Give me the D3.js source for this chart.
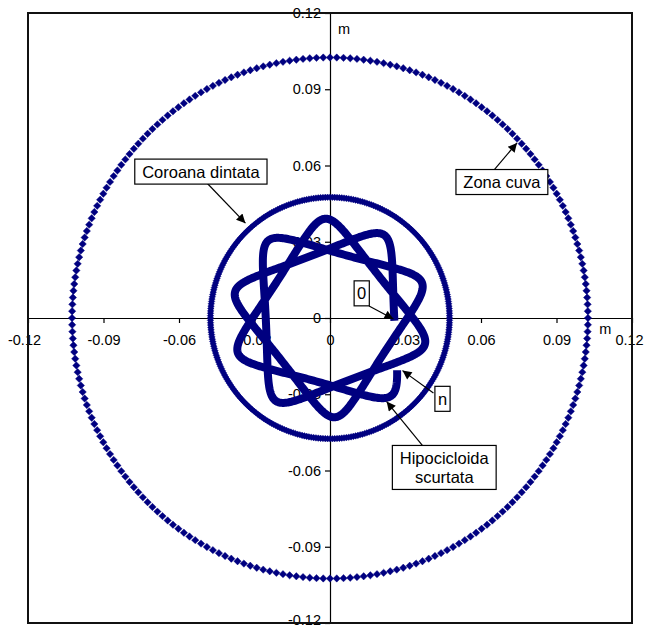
<!DOCTYPE html>
<html>
<head>
<meta charset="utf-8">
<script src="https://cdn.jsdelivr.net/npm/d3@7"></script>
<style>
  html, body { margin: 0; padding: 0; background: #ffffff; }
  svg { display: block; font-family: "Liberation Sans", Arial, sans-serif; }
</style>
</head>
<body>
<svg id="chart" width="645" height="628"></svg>
<script>
// ---------------- data ----------------
const xTickValues = [-0.12, -0.09, -0.06, -0.03, 0, 0.03, 0.06, 0.09, 0.12];
const xTickLabels = ["-0.12", "-0.09", "-0.06", "-0.03", "0", "0.03", "0.06", "0.09", "0.12"];
const yTickValues = [-0.12, -0.09, -0.06, -0.03, 0, 0.03, 0.06, 0.09, 0.12];
const yTickLabels = ["-0.12", "-0.09", "-0.06", "-0.03", "0", "0.03", "0.06", "0.09", "0.12"];

// circles: [Zona cuva, Coroana dintata]
const circleNames = ["Zona cuva", "Coroana dintata"];
const circleRadii = [0.1025, 0.0475];      // m
const circlePointCounts = [240, 320];      // markers on each circle

// shortened hypocycloid (hypotrochoid): centre-path radius, tracing offset
const hypoRadii = [0.0323, 0.0068];        // m
const hypoLobes = [10, 3];                 // 10 lobes, closes after 3 turns
const hypoPhaseDeg = [9];                  // phase of the tracing point
const hypoSweepDeg = [0, 1054];            // start ("0") to end ("n")
const hypoStepDeg = 1;

// annotations: text, box centre (data units), arrow start, arrow tip
const annoTexts = [["Coroana dintata"], ["Zona cuva"], ["0"], ["n"], ["Hipocicloida", "scurtata"]];
const annoCenters = [[-0.0513, 0.0576], [0.0683, 0.0535], [0.0126, 0.0097], [0.0447, -0.0318], [0.0454, -0.0588]];
const annoStarts = [[-0.0489, 0.0531], [0.0648, 0.0578], [0.0155, 0.0047], [0.0411, -0.0295], [0.0371, -0.0506]];
const annoTips = [[-0.0336, 0.0373], [0.0743, 0.0689], [0.0252, -0.0004], [0.0288, -0.0207], [0.0225, -0.0329]];

// ---------------- build series ----------------
const circleSeries = circleRadii.map((r, k) => {
  const n = circlePointCounts[k];
  return d3.range(n).map(i => {
    const a = 2 * Math.PI * i / n;
    return [r * Math.cos(a), r * Math.sin(a)];
  });
});
const q = hypoLobes[0] / hypoLobes[1] - 1; // 7/3
const phi = hypoPhaseDeg[0] * Math.PI / 180;
const hypoSeries = d3.range(hypoSweepDeg[0], hypoSweepDeg[1] + 0.001, hypoStepDeg).map(deg => {
  const t = deg * Math.PI / 180;
  return [hypoRadii[0] * Math.cos(t) - hypoRadii[1] * Math.cos(q * t - phi),
          hypoRadii[0] * Math.sin(t) + hypoRadii[1] * Math.sin(q * t - phi)];
});

// ---------------- chart ----------------
const svg = d3.select("#chart");
const x = d3.scaleLinear().domain([-0.12, 0.12]).range([28, 632]);
const y = d3.scaleLinear().domain([-0.12, 0.12]).range([623, 13]);
const navy = "#000080";

// axes through the origin
const xAxis = d3.axisBottom(x).tickValues(xTickValues)
  .tickFormat((d, i) => xTickLabels[i]).tickSizeInner(5).tickSizeOuter(0).tickPadding(12);
const yAxis = d3.axisLeft(y).tickValues(yTickValues)
  .tickFormat((d, i) => yTickLabels[i]).tickSizeInner(5).tickSizeOuter(0).tickPadding(4);

const gx = svg.append("g").attr("transform", `translate(0,${y(0)})`).call(xAxis);
const gy = svg.append("g").attr("transform", `translate(${x(0)},0)`).call(yAxis);
[gx, gy].forEach(g => {
  g.select(".domain").attr("stroke", "#000").attr("stroke-width", 1.2);
  g.selectAll(".tick line").attr("stroke", "#000").attr("stroke-width", 1.2);
  g.selectAll(".tick text").attr("fill", "#000").attr("font-size", 14.5)
    .attr("font-family", "'Liberation Sans', Arial, sans-serif");
});
// keep the outermost labels inside the window
gx.selectAll(".tick text").filter(d => d === 0.12).attr("dx", -3);
gx.selectAll(".tick text").filter(d => d === -0.12).attr("dx", -4);
gy.selectAll(".tick text").filter(d => d === -0.12).attr("dy", "0.1em");

// axis unit titles
svg.append("text").attr("x", x(0) + 8).attr("y", y(0.12) + 21)
  .attr("font-size", 14.5).text("m");
svg.append("text").attr("x", x(0.107)).attr("y", y(0) + 16)
  .attr("font-size", 14.5).text("m");

// diamond marker path
const diamond = h => `M0,${-h}L${h},0L0,${h}L${-h},0Z`;
const markerHalf = [3.7, 3.3];

circleSeries.forEach((pts, k) => {
  svg.append("g").selectAll("path").data(pts).join("path")
    .attr("d", diamond(markerHalf[k]))
    .attr("transform", d => `translate(${x(d[0])},${y(d[1])})`)
    .attr("fill", navy).attr("stroke", navy).attr("stroke-width", 0.4);
});

// hypocycloid
svg.append("path").datum(hypoSeries)
  .attr("d", d3.line().x(d => x(d[0])).y(d => y(d[1])))
  .attr("fill", "none").attr("stroke", navy).attr("stroke-width", 8)
  .attr("stroke-linejoin", "round").attr("stroke-linecap", "butt");

// plot border
svg.append("rect").attr("x", x(-0.12)).attr("y", y(0.12))
  .attr("width", x(0.12) - x(-0.12)).attr("height", y(-0.12) - y(0.12))
  .attr("fill", "none").attr("stroke", "#111").attr("stroke-width", 2);

// annotations
const defs = svg.append("defs");
defs.append("marker").attr("id", "arr").attr("viewBox", "0 0 10 10")
  .attr("refX", 10).attr("refY", 5).attr("markerWidth", 11).attr("markerHeight", 9)
  .attr("markerUnits", "userSpaceOnUse").attr("orient", "auto")
  .append("path").attr("d", "M0,0L10,5L0,10Z").attr("fill", "#000");

annoTexts.forEach((lines, i) => {
  svg.append("line")
    .attr("x1", x(annoStarts[i][0])).attr("y1", y(annoStarts[i][1]))
    .attr("x2", x(annoTips[i][0])).attr("y2", y(annoTips[i][1]))
    .attr("stroke", "#000").attr("stroke-width", 1.2).attr("marker-end", "url(#arr)");
});
annoTexts.forEach((lines, i) => {
  const g = svg.append("g");
  const cx = x(annoCenters[i][0]), cy = y(annoCenters[i][1]);
  const lh = 19;
  const txt = g.append("text").attr("font-size", 16.5).attr("text-anchor", "middle");
  lines.forEach((l, j) => {
    txt.append("tspan").attr("x", cx)
      .attr("y", cy + (j - (lines.length - 1) / 2) * lh + 6).text(l);
  });
  const bb = txt.node().getBBox();
  const padX = lines[0].length === 1 ? 3 : 7;
  const w = bb.width + 2 * padX;
  const h = lines.length * lh + 6;
  g.insert("rect", "text").attr("x", cx - w / 2).attr("y", cy - h / 2)
    .attr("width", w).attr("height", h)
    .attr("fill", "#fff").attr("stroke", "#000").attr("stroke-width", 1.2);
});
</script>
</body>
</html>
